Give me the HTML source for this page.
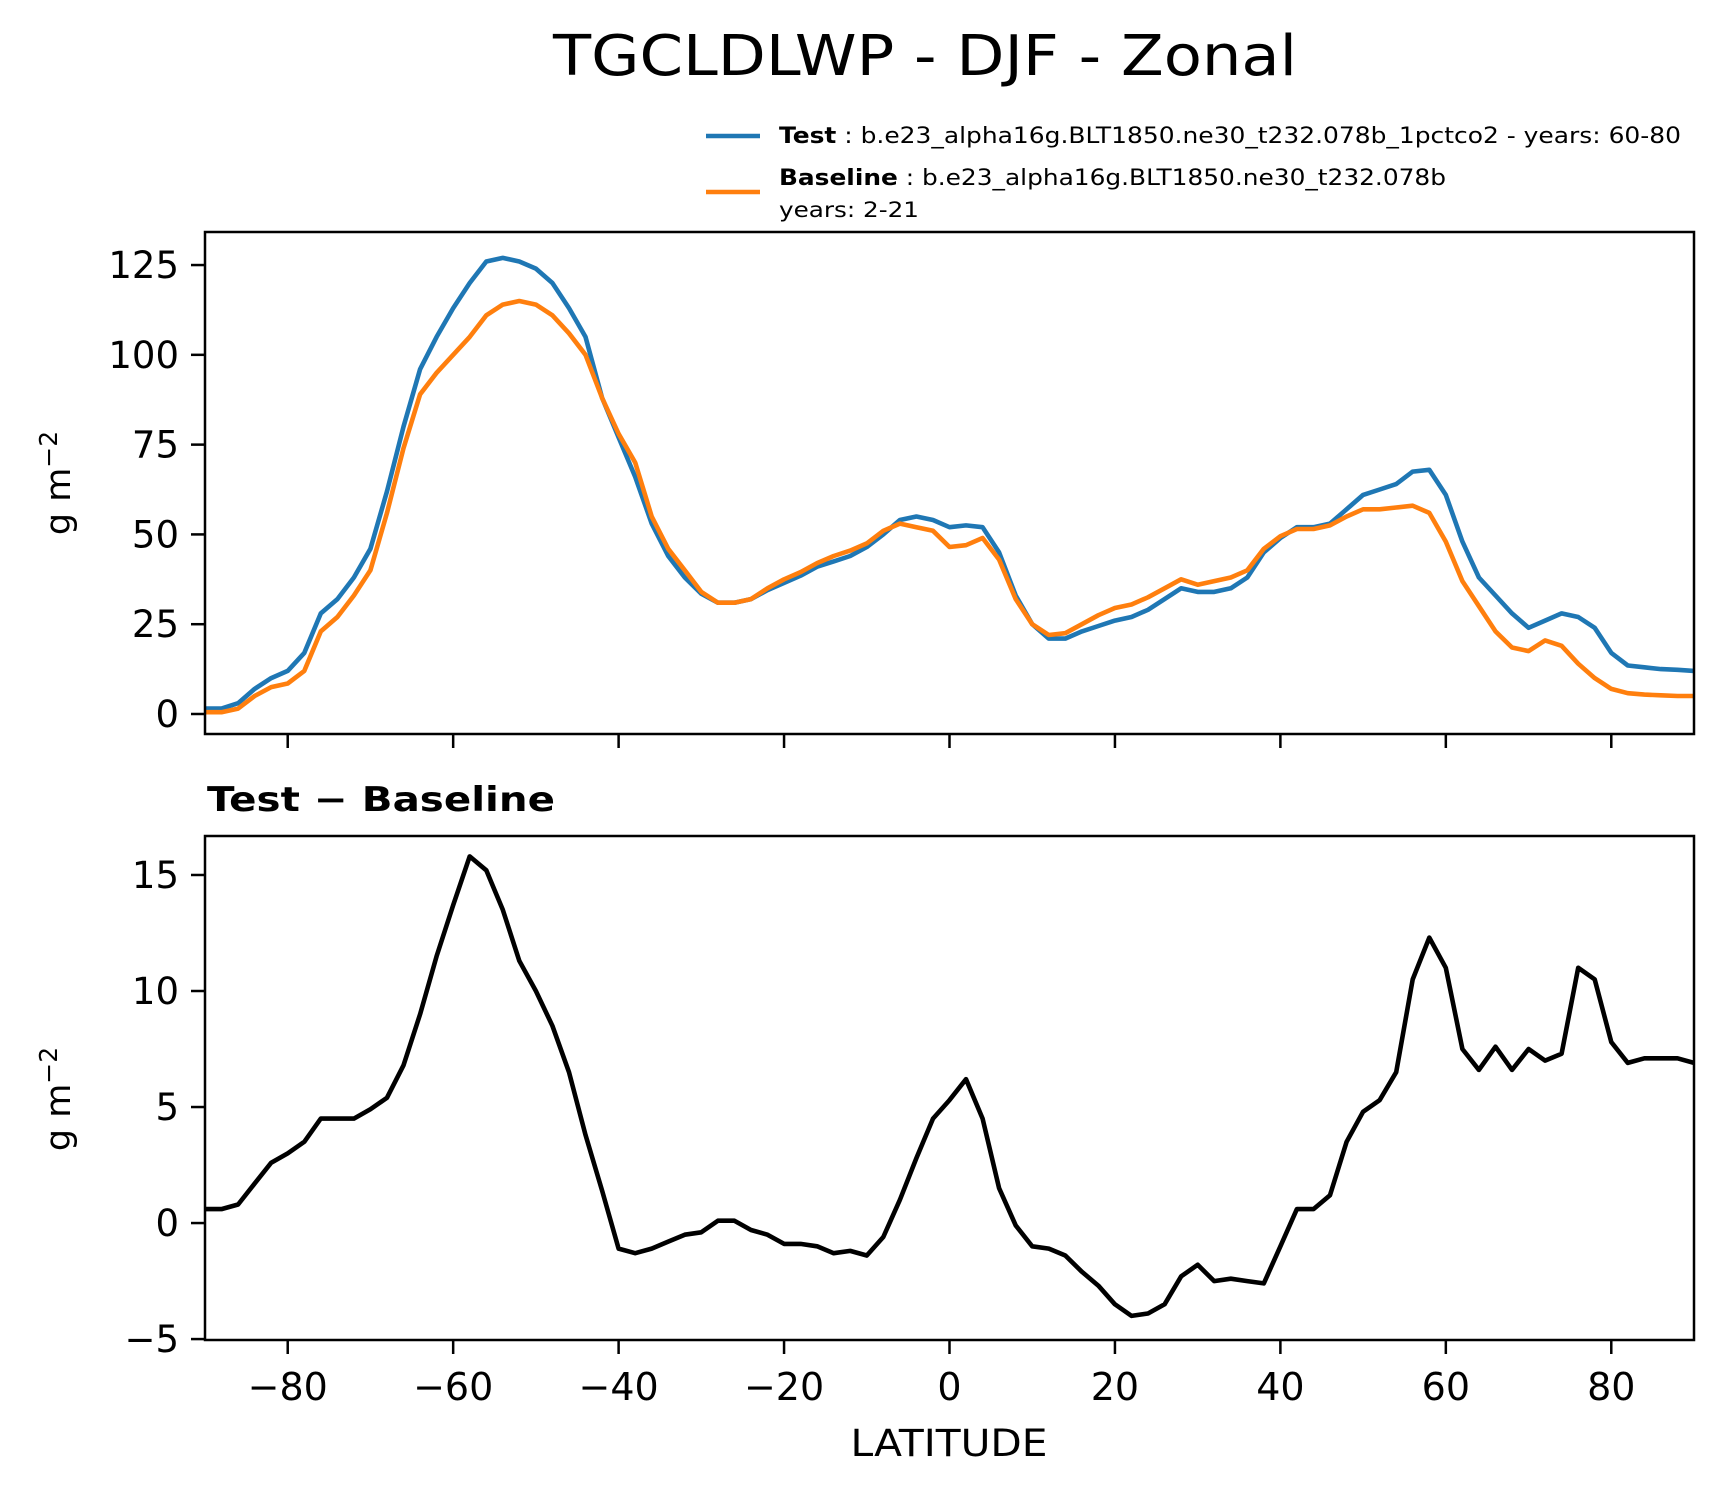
<!DOCTYPE html>
<html><head><meta charset="utf-8"><style>
html,body{margin:0;padding:0;background:#fff}
svg text{font-family:"DejaVu Sans","Liberation Sans",sans-serif;fill:#000}
</style></head><body>
<svg id="chart" width="1723" height="1496" xmlns="http://www.w3.org/2000/svg">
<text x="925" y="75" font-size="56" text-anchor="middle" textLength="744" lengthAdjust="spacingAndGlyphs">TGCLDLWP - DJF - Zonal</text>
<g>
<line x1="706" y1="136" x2="760" y2="136" stroke="#1f77b4" stroke-width="4.5"/>
<text x="779" y="143" font-size="22" textLength="902" lengthAdjust="spacingAndGlyphs"><tspan font-weight="bold">Test</tspan> : b.e23_alpha16g.BLT1850.ne30_t232.078b_1pctco2 - years: 60-80</text>
<line x1="706" y1="192" x2="760" y2="192" stroke="#ff7f0e" stroke-width="4.5"/>
<text x="779" y="185" font-size="22" textLength="667" lengthAdjust="spacingAndGlyphs"><tspan font-weight="bold">Baseline</tspan> : b.e23_alpha16g.BLT1850.ne30_t232.078b</text>
<text x="779" y="217" font-size="21" textLength="140" lengthAdjust="spacingAndGlyphs">years: 2-21</text>
</g>
<g id="top"></g>
<g id="bot"></g>
<text x="207" y="811" font-size="34" font-weight="bold" textLength="348" lengthAdjust="spacingAndGlyphs">Test − Baseline</text>
<text x="949" y="1456" font-size="37" text-anchor="middle" textLength="197" lengthAdjust="spacingAndGlyphs">LATITUDE</text>
</svg>
<script>
const lats=[];for(let l=-90;l<=90;l+=2)lats.push(l);
const testVals=[1.5,1.5,3,7,10,12,17,28,32,38,46,62,80,96,105,113,120,126,127,126,124,120,113,105,88,77,66,53,44,38,33.5,31,31,32,34.5,36.5,38.5,41,42.5,44,46.5,50,54,55,54,52,52.5,52,45,33,25,21,21,23,24.5,26,27,29,32,35,34,34,35,38,45,49,52,52,53,57,61,62.5,64,67.5,68,61,48,38,33,28,24,26,28,27,24,17,13.5,13,12.5,12.3,12];
const baseVals=[0.5,0.5,1.5,5,7.5,8.5,12,23,27,33,40,56,74,89,95,100,105,111,114,115,114,111,106,100,88,78,70,55,46,40,34,31,31,32,35,37.5,39.5,42,44,45.5,47.5,51,53,52,51,46.5,47,49,43,32,25,22,22.5,25,27.5,29.5,30.5,32.5,35,37.5,36,37,38,40,46,49.5,51.5,51.5,52.5,55,57,57,57.5,58,56,48,37,30,23,18.5,17.5,20.5,19,14,10,7,5.8,5.4,5.2,5,5];
const diffVals=[0.6,0.6,0.8,1.7,2.6,3.0,3.5,4.5,4.5,4.5,4.9,5.4,6.8,9,11.5,13.7,15.8,15.2,13.5,11.3,10,8.5,6.5,3.8,1.4,-1.1,-1.3,-1.1,-0.8,-0.5,-0.4,0.1,0.1,-0.3,-0.5,-0.9,-0.9,-1.0,-1.3,-1.2,-1.4,-0.6,1.0,2.8,4.5,5.3,6.2,4.5,1.5,-0.1,-1.0,-1.1,-1.4,-2.1,-2.7,-3.5,-4.0,-3.9,-3.5,-2.3,-1.8,-2.5,-2.4,-2.5,-2.6,-1.0,0.6,0.6,1.2,3.5,4.8,5.3,6.5,10.5,12.3,11,7.5,6.6,7.6,6.6,7.5,7.0,7.3,11,10.5,7.8,6.9,7.1,7.1,7.1,6.9];
const xTicks=[-80,-60,-40,-20,0,20,40,60,80];
const topTicks=[0,25,50,75,100,125];
const botTicks=[-5,0,5,10,15];
const NS="http://www.w3.org/2000/svg";
const X0=205,X1=1694;
const xs=v=>X0+(v+90)/180*(X1-X0);
function mk(p,t,a){const e=document.createElementNS(NS,t);for(const k in a)e.setAttribute(k,a[k]);p.appendChild(e);return e;}
function panel(g,y0,y1,ymin,ymax,ticks,series,showX,ylabY){
  const ys=v=>y1-(v-ymin)/(ymax-ymin)*(y1-y0);
  const clip="c"+y0;
  const d=mk(g,"clipPath",{id:clip});mk(d,"rect",{x:X0,y:y0,width:X1-X0,height:y1-y0});
  series.forEach(s=>{
    const pts=lats.map((l,i)=>xs(l).toFixed(1)+","+ys(s.vals[i]).toFixed(1)).join(" ");
    const pl=mk(g,"polyline",{points:pts,fill:"none",stroke:s.color,"stroke-width":4.6,"stroke-linejoin":"round","clip-path":"url(#"+clip+")"});
    
    
  });
  const fr=mk(g,"rect",{x:X0,y:y0,width:X1-X0,height:y1-y0,fill:"none",stroke:"#000","stroke-width":2.5});
  
  
  ticks.forEach(t=>{
    const y=ys(t);
    mk(g,"line",{x1:X0-14,x2:X0,y1:y,y2:y,stroke:"#000","stroke-width":2.5});
    const tx=mk(g,"text",{x:X0-26,y:y+13,"font-size":37,"text-anchor":"end"});
    tx.textContent=t<0?"−"+(-t):t;
    
    
  });
  xTicks.forEach(t=>{
    const x=xs(t);
    mk(g,"line",{x1:x,x2:x,y1:y1,y2:y1+14,stroke:"#000","stroke-width":2.5});
    if(showX){const tx=mk(g,"text",{x:x,y:y1+60,"font-size":38,"text-anchor":"middle"});
      tx.textContent=t<0?"−"+(-t):t;
      
      }
  });
  const yl=mk(g,"text",{x:0,y:0,"font-size":35,"text-anchor":"middle",transform:"translate(70,"+ylabY+") rotate(-90)"});
  yl.innerHTML='g m<tspan dy="-13" font-size="25">−2</tspan>';
  
  
}
panel(document.getElementById("top"),232,734,-5.57,134.2,topTicks,[{vals:testVals,color:"#1f77b4",name:"test-line"},{vals:baseVals,color:"#ff7f0e",name:"baseline-line"}],false,483);
panel(document.getElementById("bot"),836,1340,-5.04,16.68,botTicks,[{vals:diffVals,color:"#000",name:"difference-line"}],true,1099);
</script>
</body></html>
